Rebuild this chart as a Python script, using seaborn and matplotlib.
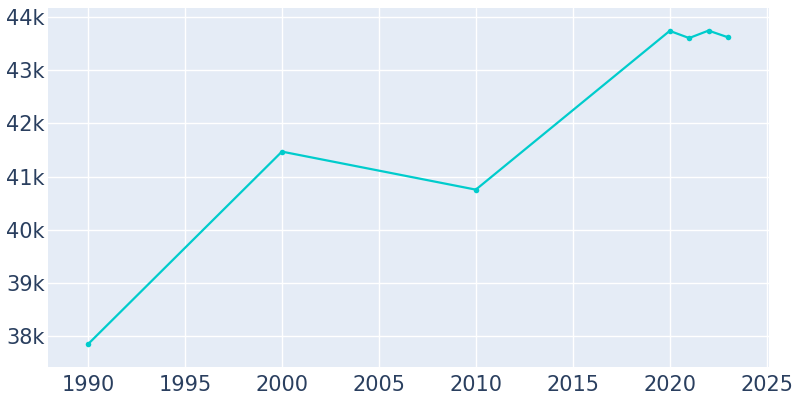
import matplotlib
matplotlib.use('Agg')
import matplotlib.pyplot as plt
import seaborn as sns
import pandas as pd
from matplotlib.ticker import FuncFormatter

# population by year
years = [1990, 2000, 2010, 2020, 2021, 2022, 2023]
population = [37850, 41470, 40755, 43740, 43605, 43745, 43620]

df = pd.DataFrame({'year': years, 'population': population})

sns.set_style('darkgrid', {'axes.facecolor': '#E5ECF6', 'grid.color': 'white'})
plt.rcParams['font.family'] = ['DejaVu Sans']

fig = plt.figure(figsize=(8, 4), dpi=100)
ax = fig.add_axes([47.5 / 800, 33.5 / 400, 721.5 / 800, 358.5 / 400])

sns.lineplot(data=df, x='year', y='population', color='#00CCCC', linewidth=1.6,
             marker='o', markersize=4, markeredgewidth=0, ax=ax)

ax.set_xlim(1987.91, 2025.12)
ax.set_ylim(37430, 44170)
ax.set_xticks(range(1990, 2026, 5))
ax.set_yticks(range(38000, 44001, 1000))
ax.yaxis.set_major_formatter(FuncFormatter(lambda v, p: f'{int(v / 1000)}k'))
ax.tick_params(axis='both', labelsize=15, labelcolor='#2a3f5f', length=0)
ax.tick_params(axis='x', pad=6)
ax.tick_params(axis='y', pad=2)
ax.grid(True, color='white', linewidth=1)
ax.set_xlabel('')
ax.set_ylabel('')
for s in ax.spines.values():
    s.set_visible(False)

fig.savefig('out.png', dpi=100)
